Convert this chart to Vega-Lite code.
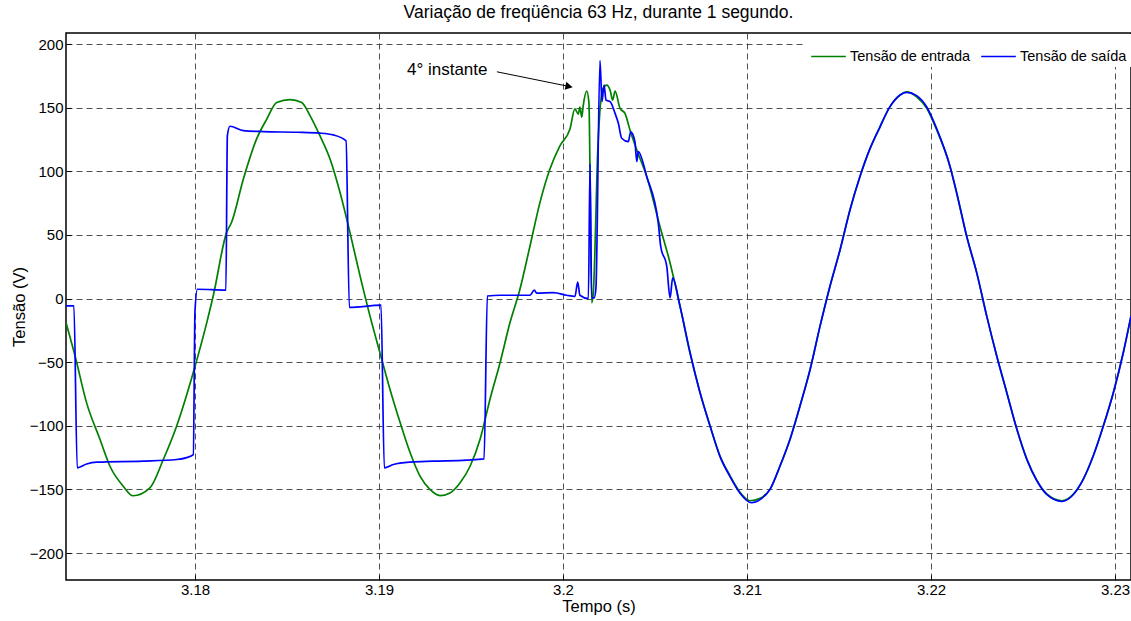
{
  "$schema": "https://vega.github.io/schema/vega-lite/v6.json",
  "width": 1065,
  "height": 547,
  "autosize": {"type": "none"},
  "padding": {"left": 66, "top": 33, "right": 0, "bottom": 41},
  "background": "white",
  "title": {"text": "Variação de freqüência 63 Hz, durante 1 segundo.", "fontSize": 17.5, "fontWeight": "normal", "font": "Liberation Sans", "offset": 12, "color": "black"},
  "config": {"font": "Liberation Sans", "view": {"stroke": "black", "strokeWidth": 1.5}},
  "datasets": {
    "series": [
      {"t": 3.17299, "v": -18.9, "s": "Tensão de entrada"},
      {"t": 3.17348, "v": -45, "s": "Tensão de entrada"},
      {"t": 3.17411, "v": -82, "s": "Tensão de entrada"},
      {"t": 3.17484, "v": -110.8, "s": "Tensão de entrada"},
      {"t": 3.17538, "v": -131.8, "s": "Tensão de entrada"},
      {"t": 3.1761, "v": -147.5, "s": "Tensão de entrada"},
      {"t": 3.17663, "v": -155, "s": "Tensão de entrada"},
      {"t": 3.17755, "v": -148.8, "s": "Tensão de entrada"},
      {"t": 3.17828, "v": -126.5, "s": "Tensão de entrada"},
      {"t": 3.17901, "v": -100, "s": "Tensão de entrada"},
      {"t": 3.17991, "v": -58, "s": "Tensão de entrada"},
      {"t": 3.18064, "v": -18.9, "s": "Tensão de entrada"},
      {"t": 3.18099, "v": 2, "s": "Tensão de entrada"},
      {"t": 3.18172, "v": 52, "s": "Tensão de entrada"},
      {"t": 3.18199, "v": 60, "s": "Tensão de entrada"},
      {"t": 3.18263, "v": 94, "s": "Tensão de entrada"},
      {"t": 3.18335, "v": 125.5, "s": "Tensão de entrada"},
      {"t": 3.1839, "v": 141, "s": "Tensão de entrada"},
      {"t": 3.18444, "v": 154, "s": "Tensão de entrada"},
      {"t": 3.18516, "v": 156.4, "s": "Tensão de entrada"},
      {"t": 3.1858, "v": 154, "s": "Tensão de entrada"},
      {"t": 3.18625, "v": 143.8, "s": "Tensão de entrada"},
      {"t": 3.18679, "v": 128, "s": "Tensão de entrada"},
      {"t": 3.18734, "v": 109.7, "s": "Tensão de entrada"},
      {"t": 3.18788, "v": 83.5, "s": "Tensão de entrada"},
      {"t": 3.18842, "v": 52, "s": "Tensão de entrada"},
      {"t": 3.18897, "v": 17.8, "s": "Tensão de entrada"},
      {"t": 3.18951, "v": -13.6, "s": "Tensão de entrada"},
      {"t": 3.19005, "v": -42.5, "s": "Tensão de entrada"},
      {"t": 3.1906, "v": -71.4, "s": "Tensão de entrada"},
      {"t": 3.19114, "v": -97, "s": "Tensão de entrada"},
      {"t": 3.19169, "v": -121, "s": "Tensão de entrada"},
      {"t": 3.19223, "v": -139.6, "s": "Tensão de entrada"},
      {"t": 3.19277, "v": -150, "s": "Tensão de entrada"},
      {"t": 3.19332, "v": -154.9, "s": "Tensão de entrada"},
      {"t": 3.19386, "v": -152.8, "s": "Tensão de entrada"},
      {"t": 3.1944, "v": -145, "s": "Tensão de entrada"},
      {"t": 3.19495, "v": -131.8, "s": "Tensão de entrada"},
      {"t": 3.19549, "v": -110.8, "s": "Tensão de entrada"},
      {"t": 3.19603, "v": -79.3, "s": "Tensão de entrada"},
      {"t": 3.19658, "v": -50.4, "s": "Tensão de entrada"},
      {"t": 3.19712, "v": -18.9, "s": "Tensão de entrada"},
      {"t": 3.19766, "v": 7.3, "s": "Tensão de entrada"},
      {"t": 3.19821, "v": 41.5, "s": "Tensão de entrada"},
      {"t": 3.19875, "v": 75.6, "s": "Tensão de entrada"},
      {"t": 3.19929, "v": 101.8, "s": "Tensão de entrada"},
      {"t": 3.19984, "v": 120.2, "s": "Tensão de entrada"},
      {"t": 3.20038, "v": 133.3, "s": "Tensão de entrada"},
      {"t": 3.20065, "v": 149, "s": "Tensão de entrada"},
      {"t": 3.20083, "v": 145, "s": "Tensão de entrada"},
      {"t": 3.20092, "v": 150.4, "s": "Tensão de entrada"},
      {"t": 3.20102, "v": 142.5, "s": "Tensão de entrada"},
      {"t": 3.2011, "v": 151.7, "s": "Tensão de entrada"},
      {"t": 3.20129, "v": 163, "s": "Tensão de entrada"},
      {"t": 3.20141, "v": 154, "s": "Tensão de entrada"},
      {"t": 3.20156, "v": -3.4, "s": "Tensão de entrada"},
      {"t": 3.20165, "v": 5, "s": "Tensão de entrada"},
      {"t": 3.2019, "v": 120, "s": "Tensão de entrada"},
      {"t": 3.20217, "v": 165, "s": "Tensão de entrada"},
      {"t": 3.20238, "v": 167.8, "s": "Tensão de entrada"},
      {"t": 3.20256, "v": 163.8, "s": "Tensão de entrada"},
      {"t": 3.2027, "v": 156, "s": "Tensão de entrada"},
      {"t": 3.20283, "v": 163, "s": "Tensão de entrada"},
      {"t": 3.2031, "v": 149.5, "s": "Tensão de entrada"},
      {"t": 3.20337, "v": 145.5, "s": "Tensão de entrada"},
      {"t": 3.20364, "v": 132.5, "s": "Tensão de entrada"},
      {"t": 3.20401, "v": 116.8, "s": "Tensão de entrada"},
      {"t": 3.20455, "v": 95.9, "s": "Tensão de entrada"},
      {"t": 3.20527, "v": 56.7, "s": "Tensão de entrada"},
      {"t": 3.20582, "v": 28, "s": "Tensão de entrada"},
      {"t": 3.20636, "v": -6, "s": "Tensão de entrada"},
      {"t": 3.2069, "v": -42.6, "s": "Tensão de entrada"},
      {"t": 3.20745, "v": -74, "s": "Tensão de entrada"},
      {"t": 3.20799, "v": -100, "s": "Tensão de entrada"},
      {"t": 3.20853, "v": -123.6, "s": "Tensão de entrada"},
      {"t": 3.20908, "v": -139.3, "s": "Tensão de entrada"},
      {"t": 3.20962, "v": -152.3, "s": "Tensão de entrada"},
      {"t": 3.21016, "v": -158.9, "s": "Tensão de entrada"},
      {"t": 3.21071, "v": -157, "s": "Tensão de entrada"},
      {"t": 3.21125, "v": -150, "s": "Tensão de entrada"},
      {"t": 3.2118, "v": -131.4, "s": "Tensão de entrada"},
      {"t": 3.21234, "v": -110.5, "s": "Tensão de entrada"},
      {"t": 3.21288, "v": -84.4, "s": "Tensão de entrada"},
      {"t": 3.21343, "v": -55.7, "s": "Tensão de entrada"},
      {"t": 3.21397, "v": -21.7, "s": "Tensão de entrada"},
      {"t": 3.21451, "v": 9.7, "s": "Tensão de entrada"},
      {"t": 3.21506, "v": 38.4, "s": "Tensão de entrada"},
      {"t": 3.2156, "v": 69.8, "s": "Tensão de entrada"},
      {"t": 3.21614, "v": 95.9, "s": "Tensão de entrada"},
      {"t": 3.21669, "v": 118, "s": "Tensão de entrada"},
      {"t": 3.21723, "v": 135, "s": "Tensão de entrada"},
      {"t": 3.21777, "v": 150.8, "s": "Tensão de entrada"},
      {"t": 3.21832, "v": 160, "s": "Tensão de entrada"},
      {"t": 3.21868, "v": 162.5, "s": "Tensão de entrada"},
      {"t": 3.21922, "v": 158.6, "s": "Tensão de entrada"},
      {"t": 3.21977, "v": 149.5, "s": "Tensão de entrada"},
      {"t": 3.22031, "v": 132.5, "s": "Tensão de entrada"},
      {"t": 3.22103, "v": 104, "s": "Tensão de entrada"},
      {"t": 3.2214, "v": 82.8, "s": "Tensão de entrada"},
      {"t": 3.22194, "v": 48.9, "s": "Tensão de entrada"},
      {"t": 3.22249, "v": 20, "s": "Tensão de entrada"},
      {"t": 3.22303, "v": -13.8, "s": "Tensão de entrada"},
      {"t": 3.22357, "v": -45, "s": "Tensão de entrada"},
      {"t": 3.22412, "v": -74, "s": "Tensão de entrada"},
      {"t": 3.22466, "v": -102.4, "s": "Tensão de entrada"},
      {"t": 3.2252, "v": -126, "s": "Tensão de entrada"},
      {"t": 3.22575, "v": -143, "s": "Tensão de entrada"},
      {"t": 3.22629, "v": -153.6, "s": "Tensão de entrada"},
      {"t": 3.22711, "v": -158.9, "s": "Tensão de entrada"},
      {"t": 3.22774, "v": -153.6, "s": "Tensão de entrada"},
      {"t": 3.22828, "v": -141.9, "s": "Tensão de entrada"},
      {"t": 3.22882, "v": -123.6, "s": "Tensão de entrada"},
      {"t": 3.22937, "v": -100, "s": "Tensão de entrada"},
      {"t": 3.22991, "v": -74, "s": "Tensão de entrada"},
      {"t": 3.23045, "v": -42.6, "s": "Tensão de entrada"},
      {"t": 3.23087, "v": -13.8, "s": "Tensão de entrada"},

      {"t": 3.17299, "v": -5.8, "s": "Tensão de saída"},
      {"t": 3.17342, "v": -5.8, "s": "Tensão de saída"},
      {"t": 3.1736, "v": -133, "s": "Tensão de saída"},
      {"t": 3.17411, "v": -130, "s": "Tensão de saída"},
      {"t": 3.17466, "v": -128.6, "s": "Tensão de saída"},
      {"t": 3.17717, "v": -127.8, "s": "Tensão de saída"},
      {"t": 3.17901, "v": -126.5, "s": "Tensão de saída"},
      {"t": 3.17955, "v": -125, "s": "Tensão de saída"},
      {"t": 3.17991, "v": -122.6, "s": "Tensão de saída"},
      {"t": 3.18, "v": -10, "s": "Tensão de saída"},
      {"t": 3.18013, "v": 7.3, "s": "Tensão de saída"},
      {"t": 3.18168, "v": 6.6, "s": "Tensão de saída"},
      {"t": 3.18176, "v": 128, "s": "Tensão de saída"},
      {"t": 3.1819, "v": 135.4, "s": "Tensão de saída"},
      {"t": 3.18263, "v": 132, "s": "Tensão de saída"},
      {"t": 3.18371, "v": 131.2, "s": "Tensão de saída"},
      {"t": 3.18553, "v": 130.7, "s": "Tensão de saída"},
      {"t": 3.18679, "v": 130, "s": "Tensão de saída"},
      {"t": 3.18752, "v": 128.6, "s": "Tensão de saída"},
      {"t": 3.18821, "v": 124, "s": "Tensão de saída"},
      {"t": 3.18839, "v": -7, "s": "Tensão de saída"},
      {"t": 3.19011, "v": -5.2, "s": "Tensão de saída"},
      {"t": 3.19029, "v": -133, "s": "Tensão de saída"},
      {"t": 3.19078, "v": -130.4, "s": "Tensão de saída"},
      {"t": 3.19169, "v": -128.5, "s": "Tensão de saída"},
      {"t": 3.19295, "v": -127.8, "s": "Tensão de saída"},
      {"t": 3.19477, "v": -127, "s": "Tensão de saída"},
      {"t": 3.19571, "v": -126, "s": "Tensão de saída"},
      {"t": 3.19589, "v": 2, "s": "Tensão de saída"},
      {"t": 3.19658, "v": 2.6, "s": "Tensão de saída"},
      {"t": 3.19821, "v": 2.6, "s": "Tensão de saída"},
      {"t": 3.19844, "v": 6.6, "s": "Tensão de saída"},
      {"t": 3.19857, "v": 4.2, "s": "Tensão de saída"},
      {"t": 3.19947, "v": 4.7, "s": "Tensão de saída"},
      {"t": 3.2002, "v": 2.6, "s": "Tensão de saída"},
      {"t": 3.20065, "v": 1.6, "s": "Tensão de saída"},
      {"t": 3.2008, "v": 13, "s": "Tensão de saída"},
      {"t": 3.20092, "v": 2.6, "s": "Tensão de saída"},
      {"t": 3.20138, "v": 0, "s": "Tensão de saída"},
      {"t": 3.20147, "v": 106, "s": "Tensão de saída"},
      {"t": 3.20156, "v": 0.5, "s": "Tensão de saída"},
      {"t": 3.20169, "v": 0.5, "s": "Tensão de saída"},
      {"t": 3.20179, "v": 8, "s": "Tensão de saída"},
      {"t": 3.20201, "v": 187, "s": "Tensão de saída"},
      {"t": 3.20212, "v": 154.7, "s": "Tensão de saída"},
      {"t": 3.20223, "v": 167.8, "s": "Tensão de saída"},
      {"t": 3.20234, "v": 156, "s": "Tensão de saída"},
      {"t": 3.20256, "v": 154.7, "s": "Tensão de saída"},
      {"t": 3.20283, "v": 145.5, "s": "Tensão de saída"},
      {"t": 3.20301, "v": 137.7, "s": "Tensão de saída"},
      {"t": 3.20319, "v": 126, "s": "Tensão de saída"},
      {"t": 3.20355, "v": 123.3, "s": "Tensão de saída"},
      {"t": 3.20368, "v": 131, "s": "Tensão de saída"},
      {"t": 3.20391, "v": 123.3, "s": "Tensão de saída"},
      {"t": 3.20401, "v": 107.7, "s": "Tensão de saída"},
      {"t": 3.20409, "v": 115.5, "s": "Tensão de saída"},
      {"t": 3.20455, "v": 95.9, "s": "Tensão de saída"},
      {"t": 3.20518, "v": 59.3, "s": "Tensão de saída"},
      {"t": 3.20531, "v": 41, "s": "Tensão de saída"},
      {"t": 3.20564, "v": 25.3, "s": "Tensão de saída"},
      {"t": 3.20582, "v": 0.5, "s": "Tensão de saída"},
      {"t": 3.20596, "v": 16.2, "s": "Tensão de saída"},
      {"t": 3.20636, "v": -6, "s": "Tensão de saída"},
      {"t": 3.2069, "v": -42, "s": "Tensão de saída"},
      {"t": 3.20745, "v": -74, "s": "Tensão de saída"},
      {"t": 3.20799, "v": -100, "s": "Tensão de saída"},
      {"t": 3.20853, "v": -124, "s": "Tensão de saída"},
      {"t": 3.20908, "v": -140, "s": "Tensão de saída"},
      {"t": 3.20962, "v": -153, "s": "Tensão de saída"},
      {"t": 3.21025, "v": -160.5, "s": "Tensão de saída"},
      {"t": 3.21071, "v": -158, "s": "Tensão de saída"},
      {"t": 3.21125, "v": -150, "s": "Tensão de saída"},
      {"t": 3.2118, "v": -131.4, "s": "Tensão de saída"},
      {"t": 3.21234, "v": -110.5, "s": "Tensão de saída"},
      {"t": 3.21288, "v": -84.4, "s": "Tensão de saída"},
      {"t": 3.21343, "v": -55.7, "s": "Tensão de saída"},
      {"t": 3.21397, "v": -21.7, "s": "Tensão de saída"},
      {"t": 3.21451, "v": 9.7, "s": "Tensão de saída"},
      {"t": 3.21506, "v": 38.4, "s": "Tensão de saída"},
      {"t": 3.2156, "v": 69.8, "s": "Tensão de saída"},
      {"t": 3.21614, "v": 95.9, "s": "Tensão de saída"},
      {"t": 3.21669, "v": 118, "s": "Tensão de saída"},
      {"t": 3.21723, "v": 135, "s": "Tensão de saída"},
      {"t": 3.21777, "v": 150.8, "s": "Tensão de saída"},
      {"t": 3.21832, "v": 160, "s": "Tensão de saída"},
      {"t": 3.21868, "v": 162, "s": "Tensão de saída"},
      {"t": 3.21922, "v": 159.5, "s": "Tensão de saída"},
      {"t": 3.21977, "v": 150.5, "s": "Tensão de saída"},
      {"t": 3.22031, "v": 133.5, "s": "Tensão de saída"},
      {"t": 3.22103, "v": 104, "s": "Tensão de saída"},
      {"t": 3.2214, "v": 82.8, "s": "Tensão de saída"},
      {"t": 3.22194, "v": 48.9, "s": "Tensão de saída"},
      {"t": 3.22249, "v": 20, "s": "Tensão de saída"},
      {"t": 3.22303, "v": -13.8, "s": "Tensão de saída"},
      {"t": 3.22357, "v": -45, "s": "Tensão de saída"},
      {"t": 3.22412, "v": -74, "s": "Tensão de saída"},
      {"t": 3.22466, "v": -102.4, "s": "Tensão de saída"},
      {"t": 3.2252, "v": -126, "s": "Tensão de saída"},
      {"t": 3.22575, "v": -143, "s": "Tensão de saída"},
      {"t": 3.22629, "v": -154, "s": "Tensão de saída"},
      {"t": 3.22711, "v": -159.5, "s": "Tensão de saída"},
      {"t": 3.22774, "v": -154, "s": "Tensão de saída"},
      {"t": 3.22828, "v": -141.9, "s": "Tensão de saída"},
      {"t": 3.22882, "v": -123.6, "s": "Tensão de saída"},
      {"t": 3.22937, "v": -100, "s": "Tensão de saída"},
      {"t": 3.22991, "v": -74, "s": "Tensão de saída"},
      {"t": 3.23045, "v": -42.6, "s": "Tensão de saída"},
      {"t": 3.23087, "v": -13.8, "s": "Tensão de saída"}
    ],
    "label": [{"t": 3.19152, "v": 179.8, "text": "4° instante"}],
    "arrow": [{"t": 3.19641, "v": 178.2, "t2": 3.20016, "v2": 167.2}],
    "head": [{"t": 3.20033, "v": 166.7}]
  },
  "layer": [
    {
      "data": {"name": "series"},
      "mark": {"type": "line", "strokeWidth": 1.7, "clip": true, "interpolate": "monotone"},
      "encoding": {
        "x": {
          "field": "t", "type": "quantitative",
          "scale": {"domain": [3.17299, 3.23087], "nice": false, "zero": false},
          "axis": {
            "values": [3.18, 3.19, 3.2, 3.21, 3.22, 3.23],
            "labelExpr": "toString(round(datum.value*100)/100)",
            "title": "Tempo (s)", "titleFontSize": 16.5, "titleFontWeight": "normal", "titleColor": "black", "titlePadding": 1,
            "labelFontSize": 15, "labelColor": "black", "labelPadding": 7, "labelFlush": false,
            "domain": false, "tickSize": -5, "tickColor": "black", "tickWidth": 1,
            "grid": true, "gridDash": [6, 4], "gridColor": "#333333", "gridOpacity": 0.85, "gridWidth": 1
          }
        },
        "y": {
          "field": "v", "type": "quantitative",
          "scale": {"domain": [-221.2, 208.7], "nice": false, "zero": false},
          "axis": {
            "values": [-200, -150, -100, -50, 0, 50, 100, 150, 200],
            "title": "Tensão (V)", "titleFontSize": 16.5, "titleFontWeight": "normal", "titleColor": "black", "titlePadding": 2,
            "labelFontSize": 15, "labelColor": "black", "labelPadding": 8,
            "domain": false, "tickSize": -5, "tickColor": "black", "tickWidth": 1,
            "grid": true, "gridDash": [6, 4], "gridColor": "#333333", "gridOpacity": 0.85, "gridWidth": 1
          }
        },
        "color": {
          "field": "s", "type": "nominal",
          "scale": {"domain": ["Tensão de entrada", "Tensão de saída"], "range": ["#008000", "#0000ff"]},
          "legend": {
            "title": null, "orient": "none", "legendX": 740, "legendY": 1, "direction": "horizontal",
            "symbolType": "stroke", "symbolSize": 1200, "symbolStrokeWidth": 1.7,
            "labelFontSize": 14.5, "labelColor": "black", "labelOffset": 3, "columnPadding": 6,
            "fillColor": "white", "padding": 4
          }
        }
      }
    },
    {
      "data": {"name": "label"},
      "mark": {"type": "text", "align": "left", "baseline": "middle", "fontSize": 17, "color": "black", "font": "Liberation Sans"},
      "encoding": {
        "x": {"field": "t", "type": "quantitative"},
        "y": {"field": "v", "type": "quantitative"},
        "text": {"field": "text"}
      }
    },
    {
      "data": {"name": "arrow"},
      "mark": {"type": "rule", "color": "black", "strokeWidth": 1},
      "encoding": {
        "x": {"field": "t", "type": "quantitative"},
        "y": {"field": "v", "type": "quantitative"},
        "x2": {"field": "t2"},
        "y2": {"field": "v2"}
      }
    },
    {
      "data": {"name": "head"},
      "mark": {"type": "point", "shape": "triangle-right", "filled": true, "color": "black", "opacity": 1, "size": 70, "angle": 11},
      "encoding": {
        "x": {"field": "t", "type": "quantitative"},
        "y": {"field": "v", "type": "quantitative"}
      }
    }
  ]
}
